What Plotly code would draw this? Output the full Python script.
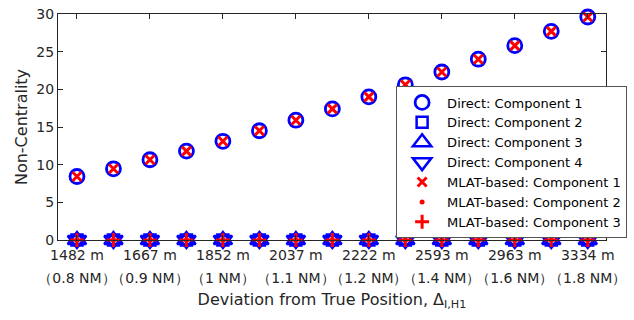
import plotly.graph_objects as go

# ---- data ----
point_index = list(range(15))
direct_c1 = [8.43, 9.45, 10.65, 11.8, 13.1, 14.5, 15.9, 17.4, 19.0, 20.6, 22.3, 24.0, 25.8, 27.7, 29.6]
direct_c2 = [0] * 15
direct_c3 = [0] * 15
direct_c4 = [0] * 15
mlat_c1 = [8.43, 9.45, 10.65, 11.8, 13.1, 14.5, 15.9, 17.4, 19.0, 20.6, 22.3, 24.0, 25.8, 27.7, 29.6]
mlat_c2 = [0] * 15
mlat_c3 = [0] * 15

tick_pos = [0, 2, 4, 6, 8, 10, 12, 14]
tick_m = ["1482 m", "1667 m", "1852 m", "2037 m", "2222 m", "2593 m", "2963 m", "3334 m"]
tick_nm = ["（0.8 NM）", "（0.9 NM）", "（1 NM）", "（1.1 NM）", "（1.2 NM）", "（1.4 NM）", "（1.6 NM）", "（1.8 NM）"]
y_ticks = [0, 5, 10, 15, 20, 25, 30]

FONT = "DejaVu Sans"
BLUE = "#0000FF"
RED = "#FF0000"
AX = "#262626"

fig = go.Figure()

def add(y, name, symbol, size, color, lw):
    fig.add_trace(go.Scatter(
        x=point_index, y=y, mode="markers", name=name, cliponaxis=False,
        marker=dict(symbol=symbol, size=size,
                    color=color,
                    line=dict(color=color, width=lw)),
    ))

add(direct_c1, "Direct: Component 1", "circle-open", 14, BLUE, 2.8)
add(direct_c2, "Direct: Component 2", "square-open", 11, BLUE, 2.5)
add(direct_c3, "Direct: Component 3", "triangle-up-open", 16, BLUE, 2.5)
add(direct_c4, "Direct: Component 4", "triangle-down-open", 16, BLUE, 2.5)
add(mlat_c1, "MLAT-based: Component 1", "x-thin-open", 9, RED, 3)
add(mlat_c2, "MLAT-based: Component 2", "circle", 5, RED, 0)
add(mlat_c3, "MLAT-based: Component 3", "cross-thin-open", 10, RED, 3)

fig.update_layout(
    width=634, height=320,
    margin=dict(l=58, r=28, t=14, b=80, autoexpand=False),
    paper_bgcolor="white", plot_bgcolor="white",
    font=dict(family=FONT, size=14, color=AX),
    showlegend=True,
    legend=dict(x=0.617, xanchor="left", y=0.343, yanchor="middle",
                bgcolor="white", bordercolor="#555555", borderwidth=1,
                font=dict(family=FONT, size=13, color="#000000"),
                itemwidth=40, tracegroupgap=0),
    xaxis=dict(range=[-0.52, 14.5], tickmode="array", tickvals=tick_pos, ticktext=tick_m,
               ticks="inside", ticklen=5, tickcolor=AX, showline=True, linecolor=AX,
               linewidth=1, mirror="ticks", showgrid=False, zeroline=False,
               tickangle=0, automargin=False, ticklabelstandoff=2,
               tickfont=dict(size=14, color=AX)),
    xaxis2=dict(overlaying="x", side="bottom", anchor="y", matches="x",
                tickmode="array", tickvals=tick_pos, ticktext=tick_nm,
                ticks="", showline=False, showgrid=False, zeroline=False,
                tickangle=0, automargin=False,
                ticklabelstandoff=28, tickfont=dict(size=14, color=AX),
                title=dict(text="Deviation from True Position, Δ<sub>I,H1</sub>",
                           font=dict(size=16, color=AX), standoff=8)),
    yaxis=dict(range=[0, 30], tickmode="array", tickvals=y_ticks,
               ticks="inside", ticklen=5, tickcolor=AX, showline=True, linecolor=AX,
               linewidth=1, mirror="ticks", showgrid=False, zeroline=False,
               automargin=False,
               tickfont=dict(size=14, color=AX),
               title=dict(text="Non-Centrality", font=dict(size=16, color=AX), standoff=4)),
)

# invisible helper so the second label row is drawn
fig.add_trace(go.Scatter(x=point_index, y=direct_c2, xaxis="x2", mode="markers",
                         marker=dict(opacity=0), showlegend=False, hoverinfo="skip"))

fig.write_html("out.html", config={"displayModeBar": False},
               post_script="document.body.style.margin='0px';")
